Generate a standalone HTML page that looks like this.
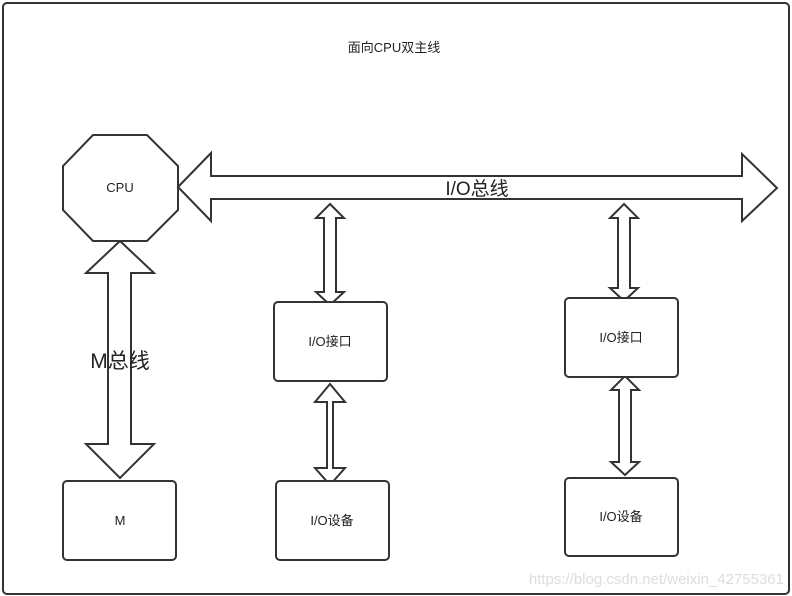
<!DOCTYPE html>
<html><head><meta charset="utf-8"><style>
html,body{margin:0;padding:0;background:#fff;}
svg{display:block;}
text{font-family:"Liberation Sans","Noto Sans CJK SC",sans-serif;fill:#222;}
</style></head><body>
<svg width="792" height="596" viewBox="0 0 792 596" xmlns="http://www.w3.org/2000/svg">
<rect x="3" y="3" width="786" height="591" rx="4" fill="#fff" stroke="#333" stroke-width="2"/>
<text x="394" y="52" font-size="13" text-anchor="middle">面向CPU双主线</text>
<g fill="#fff" stroke="#333" stroke-width="2" stroke-linejoin="miter">
<polygon points="93,135 147,135 178,166 178,210 147,241 93,241 63,210 63,166"/>
<polygon points="178,187 211,153 211,176 742,176 742,154 777,188 742,221 742,199 211,199 211,221"/>
<polygon points="120,241 154,273 131,273 131,444 154,444 120,478 86,444 108,444 108,273 86,273"/>
<polygon points="330,204 344,218 336,218 336,292 344,292 330,305 316,292 324,292 324,218 316,218"/>
<polygon points="624,204 638,218 630,218 630,288 638,288 624,301 610,288 618,288 618,218 610,218"/>
<polygon points="330,384 345,402 333,402 333,468 345,468 330,485 315,468 327,468 327,402 315,402" transform="translate(0,0)"/>
<polygon points="625,376 639,390 631,390 631,462 639,462 625,475 611,462 619,462 619,390 611,390"/>
<rect x="274" y="302" width="113" height="79" rx="4"/>
<rect x="565" y="298" width="113" height="79" rx="4"/>
<rect x="276" y="481" width="113" height="79" rx="4"/>
<rect x="565" y="478" width="113" height="78" rx="4"/>
<rect x="63" y="481" width="113" height="79" rx="4"/>
</g>
<text x="120" y="192" font-size="13" text-anchor="middle">CPU</text>
<text x="477" y="195" font-size="19" text-anchor="middle">I/O总线</text>
<text x="120" y="368" font-size="21" text-anchor="middle">M总线</text>
<text x="330" y="346" font-size="13" text-anchor="middle">I/O接口</text>
<text x="621" y="342" font-size="13" text-anchor="middle">I/O接口</text>
<text x="332" y="525" font-size="13" text-anchor="middle">I/O设备</text>
<text x="621" y="521" font-size="13" text-anchor="middle">I/O设备</text>
<text x="120" y="525" font-size="13" text-anchor="middle">M</text>
<text x="784" y="584" font-size="15" text-anchor="end" style="fill:#ddd">https://blog.csdn.net/weixin_42755361</text>
</svg>
</body></html>
